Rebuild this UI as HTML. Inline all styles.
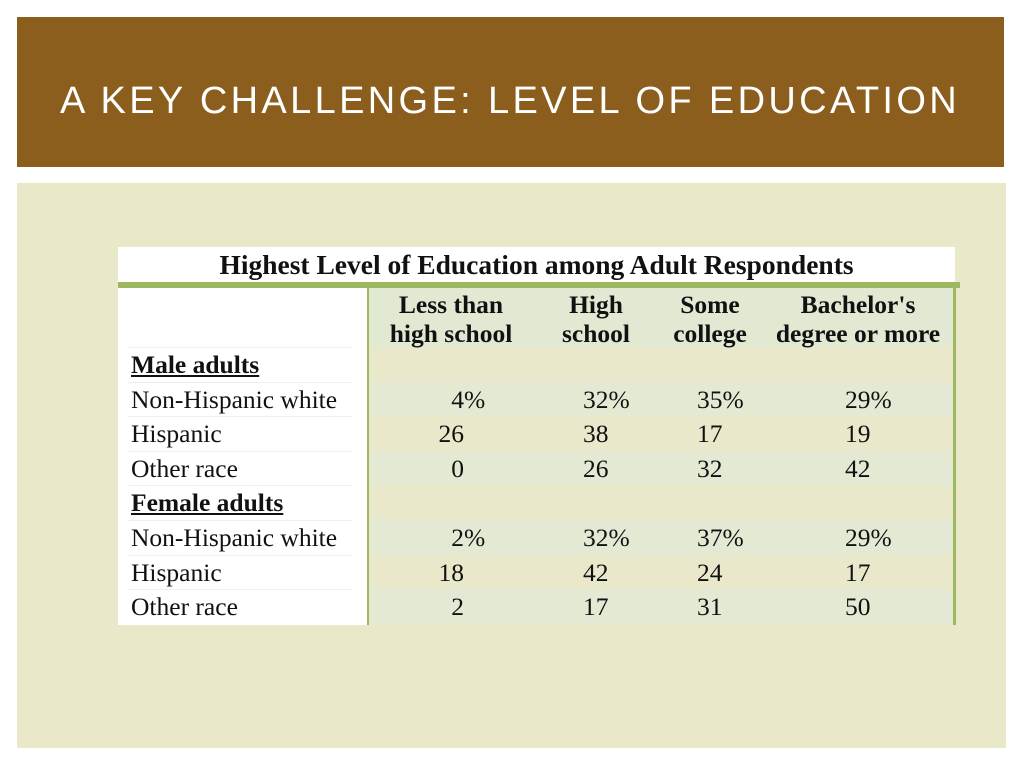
<!DOCTYPE html>
<html><head><meta charset="utf-8">
<style>
body{margin:0;width:1024px;height:768px;background:#fff;position:relative;overflow:hidden;font-family:"Liberation Serif",serif;}
.abs{position:absolute;}
#hdr{left:17px;top:17px;width:987px;height:150px;background:#8B5E1E;}
#hdr h1{position:absolute;left:43px;top:84px;margin:0;color:#fff;font-family:"Liberation Sans",sans-serif;font-weight:normal;font-size:38px;letter-spacing:3.35px;line-height:1;white-space:nowrap;transform:translateY(-50%);}
#panel{left:17px;top:183px;width:989px;height:565px;background:#E9E8C8;}
.t{font-size:25.5px;color:#111;white-space:nowrap;line-height:1;}
.b{font-weight:bold;}
.u{text-decoration:underline;}
</style></head><body>
<div id="hdr" class="abs"><h1>A KEY CHALLENGE: LEVEL OF EDUCATION</h1></div>
<div id="panel" class="abs"></div>
<div class="abs" style="left:118px;top:247px;width:837px;height:35px;background:#fff"></div>
<div class="abs t b" style="left:118px;width:837px;top:251px;text-align:center;font-size:27.5px">Highest Level of Education among Adult Respondents</div>
<div class="abs" style="left:118px;top:282px;width:842px;height:6px;background:#9DB860"></div>
<div class="abs" style="left:118px;top:288px;width:250px;height:337px;background:#fff"></div>
<div id="rows"></div>
<div class="abs" style="left:367px;top:288px;width:2px;height:337px;background:#9DB860"></div>
<div class="abs" style="left:953px;top:288px;width:3px;height:337px;background:#9DB860"></div>
<div class="abs t b" style="left:370px;width:162px;top:290px;text-align:center;line-height:29px">Less than<br>high school</div>
<div class="abs t b" style="left:540px;width:112px;top:290px;text-align:center;line-height:29px">High<br>school</div>
<div class="abs t b" style="left:660px;width:100px;top:290px;text-align:center;line-height:29px">Some<br>college</div>
<div class="abs t b" style="left:770px;width:176px;top:290px;text-align:center;line-height:29px">Bachelor's<br>degree or more</div>
<div id="cells"></div>
<script>
const rowLabels=["Male adults","Non-Hispanic white","Hispanic","Other race","Female adults","Non-Hispanic white","Hispanic","Other race"];
const lessHS=[null,"4","26","0",null,"2","18","2"];
const highSchool=[null,"32","38","26",null,"32","42","17"];
const someCollege=[null,"35","17","32",null,"37","24","31"];
const bachelors=[null,"29","19","42",null,"29","17","50"];
const pctRows=[1,5];
const rowsEl=document.getElementById('rows');
const cells=document.getElementById('cells');
const top0=347,rh=34.6;
function mk(parent,name,css,txt){const d=document.createElement('div');d.className='abs';d.style.cssText=css;if(txt!=null)d.textContent=txt;


parent.appendChild(d);return d;}
mk(rowsEl,'header-row-bg','left:369px;top:288px;width:584px;height:59px;background:#E2E9D3;');
rowLabels.forEach((lab,i)=>{
  const y=top0+i*rh;
  mk(rowsEl,'row-bg','left:369px;top:'+y+'px;width:584px;height:'+rh+'px;background:'+(i%2==0?'#EAE8CB':'#E3E9D3')+';');
  mk(rowsEl,'row-sep','left:128px;top:'+y+'px;width:224px;height:1px;background:#F0F0E8;');
  const grp=(lab.indexOf('adults')>=0);
  const l=mk(cells,grp?'group-label':'row-label','left:131px;top:'+(y+5)+'px;',lab);
  l.classList.add('t');if(grp){l.classList.add('b');l.classList.add('u');}
  const pct=pctRows.includes(i)?'%':'';
  if(lessHS[i]!=null){
    const c=mk(cells,'cell-less-than-hs','right:'+(1024-464)+'px;top:'+(y+5)+'px;',lessHS[i]);c.classList.add('t');
    if(pct){const p=mk(cells,'pct-sign','left:464px;top:'+(y+5)+'px;','%');p.classList.add('t');}
  }
  [[highSchool,583,'cell-high-school'],[someCollege,697,'cell-some-college'],[bachelors,845,'cell-bachelors']].forEach(([arr,x,n])=>{
    if(arr[i]!=null){const c=mk(cells,n,'left:'+x+'px;top:'+(y+5)+'px;',arr[i]+pct);c.classList.add('t');}
  });
});
</script>
</body></html>
